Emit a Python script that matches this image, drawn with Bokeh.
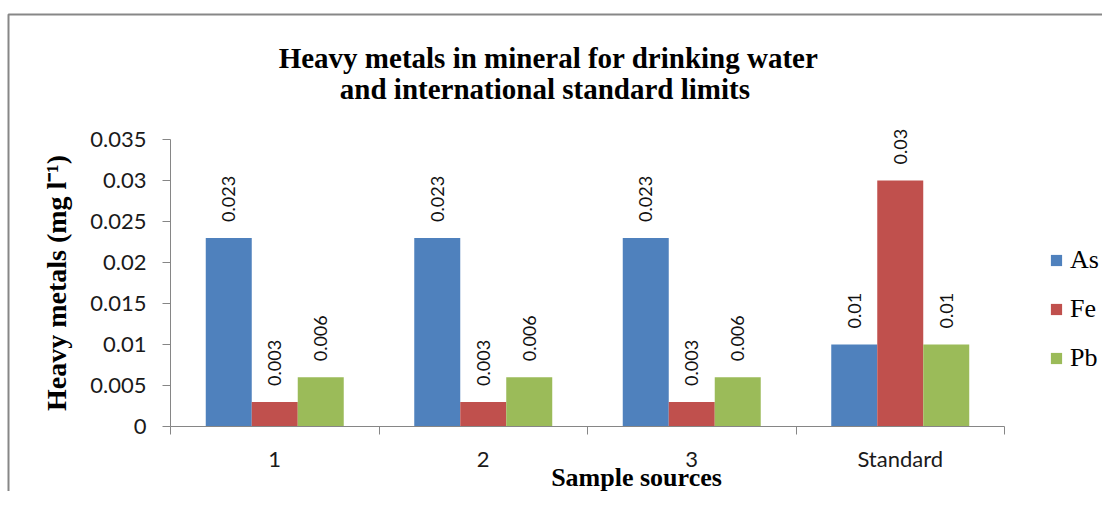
import math
from bokeh.plotting import figure
from bokeh.models import (ColumnDataSource, Range1d, FixedTicker, NumeralTickFormatter,
                          Label, BoxAnnotation)
from bokeh.transform import dodge
from bokeh.core.properties import value
from bokeh.embed import file_html
from bokeh.resources import INLINE

categories = ["1", "2", "3", "Standard"]
metals = ["As", "Fe", "Pb"]
as_vals = [0.023, 0.023, 0.023, 0.01]
fe_vals = [0.003, 0.003, 0.003, 0.03]
pb_vals = [0.006, 0.006, 0.006, 0.01]
y_ticks = [0, 0.005, 0.01, 0.015, 0.02, 0.025, 0.03, 0.035]
y_max = 0.035
colors = ["#4F81BD", "#C0504D", "#9BBB59"]
title_lines = ["Heavy metals in mineral for drinking water",
               "and international  standard limits"]
x_title = "Sample sources"
y_title = "Heavy metals (mg l\u207b\u00b9)"

# ---- layout (pixels) ----
W, H = 1102, 491
x0_px, cat_px = 170.0, 208.5          # where category axis starts, width per category
y0_px, ymax_px = 426.0, 139.0         # pixel rows of 0 and y_max
ppu = (y0_px - ymax_px) / y_max       # pixels per y unit

n = len(categories)
pos = [i + 0.5 for i in range(n)]
bounds = list(range(n + 1))
series = {"As": as_vals, "Fe": fe_vals, "Pb": pb_vals}

def xd(px):
    return (px - x0_px) / cat_px

def yd(py):
    return (y0_px - py) / ppu

data = dict(pos=pos)
for m in metals:
    data[m] = series[m]
    data[m + "_lbl"] = [str(v) for v in series[m]]
src = ColumnDataSource(data)

p = figure(width=W, height=H, x_range=Range1d(xd(0), xd(W)), y_range=Range1d(yd(H), yd(0)),
           output_backend="svg", toolbar_location=None, title=None, min_border=0)
p.outline_line_color = None
p.xgrid.grid_line_color = None
p.ygrid.grid_line_color = None
p.background_fill_color = "white"
p.border_fill_color = "white"

# outer chart border (only the top and left edges fall inside the picture)
p.add_layout(BoxAnnotation(left=xd(8), top=yd(14), right=xd(W + 20), bottom=yd(H + 20),
                           fill_alpha=0, line_color="#878787", line_alpha=1.0, line_width=2))

bw = 0.2206
offsets = [-bw, 0.0, bw]
for m, off, c in zip(metals, offsets, colors):
    p.vbar(x=dodge("pos", off, range=p.x_range), top=m, width=bw, source=src,
           fill_color=c, line_color=None, legend_label=m)
    p.text(x=dodge("pos", off, range=p.x_range), y=m, text=m + "_lbl", source=src,
           angle=math.pi / 2, text_align="left", text_baseline="middle", y_offset=-16,
           text_font=value("Lato"), text_font_size="18px", text_color="#111111")

axis_col = "#868686"
# y axis
ya = p.yaxis[0]
ya.fixed_location = 0
ya.ticker = FixedTicker(ticks=y_ticks)
ya.formatter = NumeralTickFormatter(format="0.[000]")
ya.bounds = (0, y_max)
ya.axis_line_color = axis_col
ya.major_tick_line_color = axis_col
ya.major_tick_out = 8
ya.major_tick_in = 0
ya.minor_tick_out = 0
ya.minor_tick_in = 0
ya.major_label_text_font = "Lato"
ya.major_label_text_font_size = "22px"
ya.major_label_text_color = "#1a1a1a"
ya.major_label_standoff = 16
ya.axis_label = y_title
ya.axis_label_text_font = "Liberation Serif"
ya.axis_label_text_font_size = "28px"
ya.axis_label_text_font_style = "bold"
ya.axis_label_text_color = "#000000"
ya.axis_label_standoff = 15

# x axis
xa = p.xaxis[0]
xa.fixed_location = 0
xa.ticker = FixedTicker(ticks=pos, minor_ticks=bounds)
xa.major_label_overrides = {pp: c for pp, c in zip(pos, categories)}
xa.bounds = (0, n)
xa.axis_line_color = axis_col
xa.major_tick_out = 0
xa.major_tick_in = 0
xa.minor_tick_line_color = axis_col
xa.minor_tick_out = 8
xa.minor_tick_in = 0
xa.major_label_text_font = "Lato"
xa.major_label_text_font_size = "22px"
xa.major_label_text_color = "#1a1a1a"
xa.major_label_standoff = 10

p.add_layout(Label(x=xd(636), y=yd(477), text=x_title, text_align="center",
                   text_baseline="middle", text_font="Liberation Serif",
                   text_font_size="26px", text_font_style="bold", text_color="#000000"))

# title
for line, py in zip(title_lines, [57, 88]):
    p.add_layout(Label(x=xd(548), y=yd(py), text=line, text_align="center",
                       text_baseline="middle", text_font="Liberation Serif",
                       text_font_size="29px", text_font_style="bold", text_color="#000000"))

# legend
lg = p.legend[0]
lg.location = (1049, 118)
lg.label_text_font = "Liberation Serif"
lg.label_text_font_size = "26px"
lg.label_text_color = "#000000"
lg.glyph_width = 14
lg.glyph_height = 14
lg.label_standoff = 7
lg.spacing = 19
lg.padding = 0
lg.margin = 0
lg.border_line_color = None
lg.background_fill_alpha = 0

open("out.html", "w").write(file_html(p, INLINE))
